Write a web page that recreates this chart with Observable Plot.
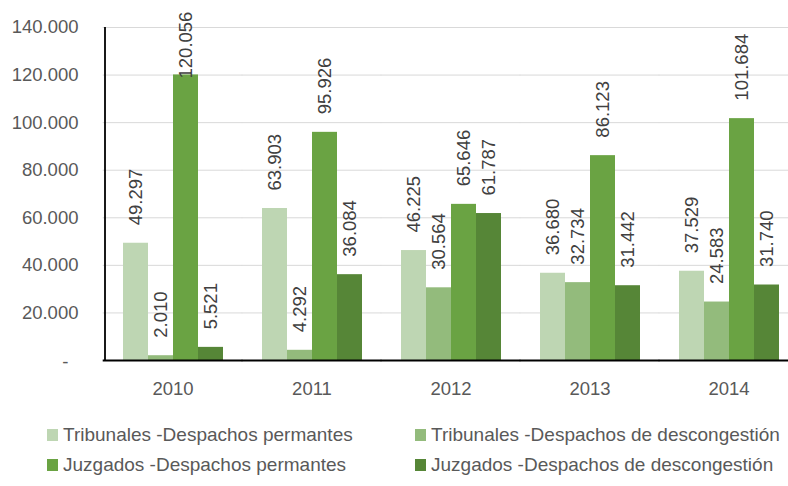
<!DOCTYPE html>
<html>
<head>
<meta charset="utf-8">
<script src="https://cdn.jsdelivr.net/npm/d3@7"></script>
<script src="https://cdn.jsdelivr.net/npm/@observablehq/plot@0.6"></script>
<style>
  html, body { margin: 0; padding: 0; overflow: hidden; background: #fff; width: 788px; }
  #wrap { width: 788px; height: 486px; overflow: hidden; position: relative; }
  #chart svg { display: block; max-width: none !important; }
  .legend { display: grid; grid-template-columns: 368px 368px; padding: 5px 0 0 47px;
            font-family: "Liberation Sans", Arial, sans-serif; font-size: 19px; color: #595959; }
  .legend .item { height: 30px; display: flex; align-items: center; white-space: nowrap; }
  .legend .sw { width: 11px; height: 12px; margin-right: 5px; flex: none; }
</style>
</head>
<body>
<div id="wrap">
<div id="chart"></div>
<div class="legend" id="legend"></div>
</div>
<script>
const years = ["2010", "2011", "2012", "2013", "2014"];
const series = [
  "Tribunales -Despachos permantes",
  "Tribunales -Despachos de descongestión",
  "Juzgados -Despachos permantes",
  "Juzgados -Despachos de descongestión"
];
const tribunalesPermanentes = [49297, 63903, 46225, 36680, 37529];
const tribunalesDescongestion = [2010, 4292, 30564, 32734, 24583];
const juzgadosPermanentes = [120056, 95926, 65646, 86123, 101684];
const juzgadosDescongestion = [5521, 36084, 61787, 31442, 31740];
const yTicks = [0, 20000, 40000, 60000, 80000, 100000, 120000, 140000];
const colors = ["#BED6B3", "#93BB7C", "#6AA343", "#568637"];

const valuesBySeries = [tribunalesPermanentes, tribunalesDescongestion, juzgadosPermanentes, juzgadosDescongestion];
const rows = [];
years.forEach((year, i) => {
  series.forEach((s, j) => rows.push({year, series: s, value: valuesBySeries[j][i]}));
});

const loc = d3.formatLocale({decimal: ",", thousands: ".", grouping: [3], currency: ["", ""]});
const fmt = loc.format(",d");
const labelCap = 111000;

const chart = Plot.plot({
  width: 800,
  height: 415,
  marginLeft: 102,
  marginRight: 1,
  marginTop: 27,
  marginBottom: 55,
  style: {fontFamily: "'Liberation Sans', Arial, sans-serif", fontSize: "18.5px", color: "#595959", background: "white", maxWidth: "none"},
  fx: {domain: years, paddingInner: 0.26, paddingOuter: 0.13, label: null, axis: "bottom", tickSize: 0, tickPadding: 21},
  x: {domain: series, padding: 0, axis: null},
  y: {domain: [0, 140000], label: null},
  color: {domain: series, range: colors},
  marks: [
    Plot.axisY(yTicks.filter(t => t > 0), {tickSize: 0, tickPadding: 43, tickFormat: fmt, label: null}),
    Plot.axisY(yTicks.filter(t => t === 0), {tickSize: 0, tickPadding: 53, tickFormat: () => "-", dy: 2, label: null}),
    Plot.ruleY(yTicks.slice(1), {stroke: "#D9D9D9", strokeWidth: 1, insetLeft: -18.3, insetRight: -18.3}),
    Plot.barY(rows, {fx: "year", x: "series", y: "value", fill: "series"}),
    Plot.ruleY([0], {stroke: "#000", strokeWidth: 1.8, insetLeft: -18.3, insetRight: -18.3}),
    Plot.ruleX([years[0]], {fx: d => d, x: () => series[0], y1: 0, y2: 140000, stroke: "#000", strokeWidth: 1.8, dx: -31}),
    Plot.text(rows, {
      fx: "year", x: "series", y: d => Math.min(d.value, labelCap),
      text: d => fmt(d.value), rotate: -90, textAnchor: "start", lineAnchor: "middle",
      dy: -18, fill: "#404040", fontSize: 18.5
    })
  ]
});
document.getElementById("chart").appendChild(chart);

const legend = document.getElementById("legend");
series.forEach((s, i) => {
  const item = document.createElement("div");
  item.className = "item";
  const sw = document.createElement("span");
  sw.className = "sw";
  sw.style.background = colors[i];
  const t = document.createElement("span");
  t.textContent = s;
  item.appendChild(sw);
  item.appendChild(t);
  legend.appendChild(item);
});
</script>
</body>
</html>
